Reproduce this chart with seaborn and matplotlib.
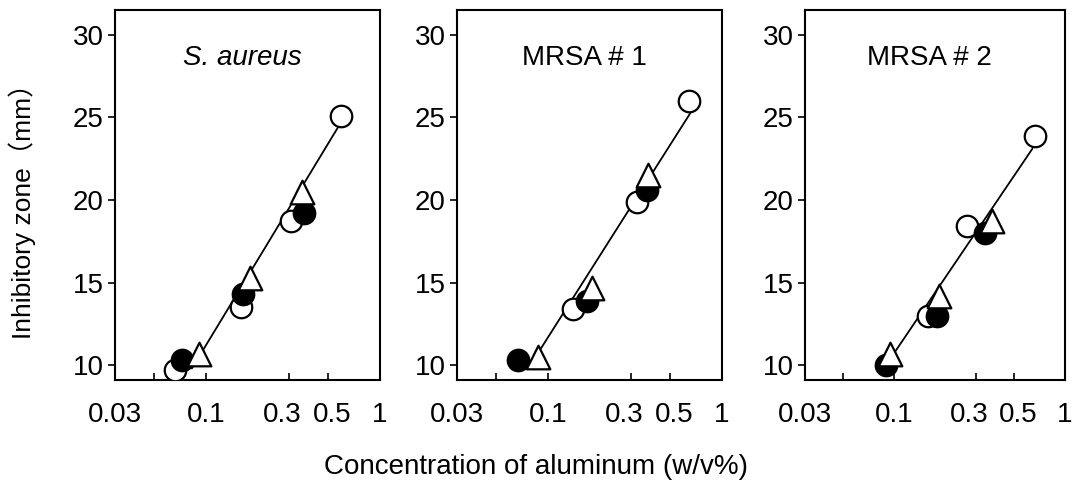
import matplotlib
matplotlib.use("Agg")
import matplotlib.pyplot as plt
import matplotlib.transforms as mtransforms
import seaborn as sns
from matplotlib.ticker import FixedLocator, FixedFormatter, NullFormatter

# panel titles
panels = ["S. aureus", "MRSA # 1", "MRSA # 2"]

# open circles
open_x = [[0.066, 0.159, 0.308, 0.60], [0.139, 0.325, 0.646], [0.157, 0.266, 0.664]]
open_y = [[9.7, 13.5, 18.7, 25.1], [13.4, 19.9, 26.0], [13.0, 18.4, 23.9]]
# filled circles
fill_x = [[0.073, 0.163, 0.366], [0.067, 0.167, 0.371], [0.089, 0.177, 0.339]]
fill_y = [[10.3, 14.3, 19.2], [10.3, 13.9, 20.6], [10.0, 13.0, 18.0]]
# open triangles
tri_x = [[0.091, 0.18, 0.356], [0.088, 0.179, 0.376], [0.094, 0.182, 0.372]]
tri_y = [[10.7, 15.3, 20.5], [10.5, 14.7, 21.5], [10.7, 14.2, 18.7]]
# fitted line end points
fit_x = [[0.083, 0.597], [0.077, 0.68], [0.095, 0.644]]
fit_y = [[9.8, 24.7], [9.8, 25.5], [10.4, 23.1]]

xticks = [0.03, 0.1, 0.3, 0.5, 1]
xtick_labels = ["0.03", "0.1", "0.3", "0.5", "1"]
yticks = [10, 15, 20, 25, 30]

sns.set_style("ticks")
plt.rcParams['font.family'] = ['Liberation Sans', 'Noto Sans CJK JP', 'DejaVu Sans']
plt.rcParams.update({"text.color": "black", "axes.labelcolor": "black",
                     "xtick.color": "black", "ytick.color": "black"})

fig = plt.figure(figsize=(10.76, 4.8), dpi=100)
rects = [(115, 265), (457, 265), (805, 260)]

for i, (left, width) in enumerate(rects):
    ax = fig.add_axes([left / 1076, 1 - 380 / 480, width / 1076, 370 / 480])

    sns.lineplot(x=fit_x[i], y=fit_y[i], ax=ax, color="black", lw=1.3)
    sns.scatterplot(x=open_x[i], y=open_y[i], ax=ax, marker="o", s=240,
                    facecolor="white", edgecolor="black", linewidth=1.6, zorder=3)
    sns.scatterplot(x=fill_x[i], y=fill_y[i], ax=ax, marker="o", s=240,
                    color="black", edgecolor="black", linewidth=1.6, zorder=4)
    sns.scatterplot(x=tri_x[i], y=tri_y[i], ax=ax, marker="^", s=290,
                    facecolor="white", edgecolor="black", linewidth=1.6, zorder=5)

    ax.set_xscale("log")
    ax.set_xlim(0.03, 1)
    ax.set_ylim(9.1, 31.5)
    ax.xaxis.set_major_locator(FixedLocator(xticks))
    ax.xaxis.set_major_formatter(FixedFormatter(xtick_labels))
    ax.xaxis.set_minor_locator(FixedLocator([0.05]))
    ax.xaxis.set_minor_formatter(NullFormatter())
    ax.set_yticks(yticks)
    ax.tick_params(axis="x", direction="in", length=5, width=1.2, labelsize=20, pad=16,
                   colors="black")
    ax.tick_params(axis="x", which="minor", direction="in", length=5, width=1.2, colors="black")
    ax.tick_params(axis="y", direction="out", length=5, width=1.2, labelsize=20, pad=3,
                   colors="black")
    for s in ax.spines.values():
        s.set_linewidth(1.5)
        s.set_color("black")

    # spread the crowded 0.3 / 0.5 labels apart a little
    for lab, dx in zip(ax.get_xticklabels(), [0, 0, -7, 5, 0]):
        lab.set_transform(lab.get_transform() +
                          mtransforms.ScaledTranslation(dx / 100, 0, fig.dpi_scale_trans))

    style = "italic" if i == 0 else "normal"
    ax.text(0.48, 0.87, panels[i], transform=ax.transAxes, ha="center", va="center",
            fontsize=20, style=style, color="black")

fig.text(0.021, 0.573, "Inhibitory zone（mm）", rotation=90, ha="center", va="center",
         fontsize=19, color="black")
fig.text(0.498, 0.027, "Concentration of aluminum (w/v%)", ha="center", va="center",
         fontsize=20, color="black")

fig.savefig("out.png", dpi=100)
